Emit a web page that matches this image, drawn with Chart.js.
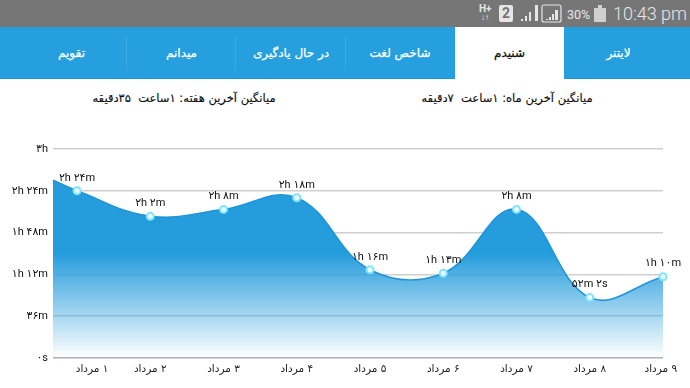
<!DOCTYPE html>
<html><head><meta charset="utf-8">
<script src="https://cdn.jsdelivr.net/npm/chart.js@4"></script>
<style>
html,body{margin:0;padding:0;background:#fff;width:690px;height:388px;overflow:hidden;font-family:"DejaVu Sans",sans-serif}
#status{position:absolute;left:0;top:0;width:690px;height:27px;background:#767676}
#status span{position:absolute;color:#e6e6e6;font-family:Roboto,sans-serif;white-space:nowrap}
#tabs{position:absolute;left:0;top:27px;width:690px;height:51px;background:#259fdd;border-bottom:1px solid #1f97d6;box-sizing:content-box}
.tab{position:absolute;top:0;height:51px;line-height:52px;text-align:center;color:#fff;font-size:12px;direction:rtl;-webkit-text-stroke:0.25px currentColor}
.sep{position:absolute;top:9px;width:1px;height:34px;background:#3fa9e0}
.sub{position:absolute;top:91px;color:#111;font-size:11.5px;direction:rtl;white-space:pre;transform:translateX(-50%);-webkit-text-stroke:0.15px currentColor}
canvas{position:absolute;left:0;top:0}
</style></head>
<body>
<div id="status">
<svg width="690" height="27" style="position:absolute;left:0;top:0">
<g fill="#e6e6e6">
<rect x="499" y="5" width="14" height="17" rx="2"/>
<path d="M521 21v-2h2v2zM525 21v-5h2v5zM529 21v-9h2v9zM535 21v-16h3v16z"/>
<path d="M546 20v-1h2v1zM549 20v-3h2v3zM552 20v-6h2v6zM555 20v-10h3v10z"/>
<rect x="594" y="8" width="12" height="14" fill="#cfcfcf"/><rect x="598" y="5" width="4" height="3" fill="#cfcfcf"/>
</g>
<rect x="542" y="5" width="19" height="17" rx="2" fill="none" stroke="#e6e6e6" stroke-width="1.2"/>
</svg>
<span style="left:479px;top:3px;font-size:10px;font-weight:700">H+</span>
<span style="left:481px;top:13px;font-size:8px;font-weight:700">↓↑</span>
<span style="left:502px;top:5px;font-size:14px;font-weight:700;color:#767676">2</span>
<span style="left:567px;top:7px;font-size:12.5px">30%</span>
<span style="left:613px;top:3px;font-size:18px;font-weight:300">10:43 pm</span>
</div>
<div id="tabs">
<div class="tab" style="left:564px;width:109px">لایتنر</div>
<div class="tab" style="left:455px;width:109px;background:#fff;color:#111;height:52px">شنیدم</div>
<div class="tab" style="left:345px;width:110px">شاخص لغت</div>
<div class="tab" style="left:236px;width:110px">در حال یادگیری</div>
<div class="tab" style="left:127px;width:109px">میدانم</div>
<div class="tab" style="left:17px;width:109px">تقویم</div>
<div class="sep" style="left:126px"></div>
<div class="sep" style="left:235px"></div>
<div class="sep" style="left:345px"></div>
</div>
<div class="sub" style="left:184px">میانگین آخرین هفته: ۱ساعت  ۳۵دقیقه</div>
<div class="sub" style="left:507px">میانگین آخرین ماه: ۱ساعت  ۷دقیقه</div>
<canvas id="c" width="690" height="388"></canvas>
<script>
// minutes listened per day
const days = [1,2,3,4,5,6,7,8,9];
const minutes = [144,122,128,138,76,73,128,52.03,70];
const pointLabels = ["۲h ۲۴m","۲h ۲m","۲h ۸m","۲h ۱۸m","۱h ۱۶m","۱h ۱۳m","۲h ۸m","۵۲m ۲s","۱h ۱۰m"];
const dayLabels = ["۱ مرداد","۲ مرداد","۳ مرداد","۴ مرداد","۵ مرداد","۶ مرداد","۷ مرداد","۸ مرداد","۹ مرداد"];
const yTicks = [0,36,72,108,144,180];
const yTickLabels = ["۰s","۳۶m","۱h ۱۲m","۱h ۴۸m","۲h ۲۴m","۳h"];
// curve continues to the axis start, before day 1
const leadX = 0.672, leadY = 153;
const tickDayPos = [1.205,2,3,4,5,6,7,8,8.97];

const pts = [{x:leadX,y:leadY}].concat(days.map((d,i)=>({x:d,y:minutes[i]})));
const FONT = 'Roboto, "DejaVu Sans", sans-serif';

const labelPlugin = {
  id:'pointText',
  afterDatasetsDraw(chart){
    const {ctx,scales:{x,y}} = chart;
    ctx.save();
    ctx.font = '11px '+FONT;
    ctx.fillStyle = '#111';
    ctx.textAlign = 'center';
    ctx.textBaseline = 'middle';
    days.forEach((d,i)=>{
      ctx.fillText(pointLabels[i], x.getPixelForValue(d), y.getPixelForValue(minutes[i]) - 13);
    });
    ctx.restore();
  }
};

new Chart(document.getElementById('c'),{
  type:'line',
  data:{datasets:[{
    data:pts,
    clip:false,
    borderColor:'#1f95d8',
    borderWidth:1.6,
    tension:0.4,
    fill:'origin',
    backgroundColor(c){
      const a=c.chart.chartArea; if(!a) return '#259ddd';
      const g=c.chart.ctx.createLinearGradient(0,a.top,0,a.bottom);
      g.addColorStop(0,'rgba(37,157,221,1)');
      g.addColorStop(0.5,'rgba(37,157,221,1)');
      g.addColorStop(1,'rgba(37,157,221,0)');
      return g;
    },
    pointRadius:pts.map((p,i)=>i?3.5:0),
    pointBorderWidth:2,
    pointBorderColor:'#7fe4ff',
    pointBackgroundColor:'#eafcff'
  }]},
  plugins:[labelPlugin],
  options:{
    responsive:false,animation:false,
    layout:{padding:{left:0,right:27,top:149,bottom:0}},
    plugins:{legend:{display:false},tooltip:{enabled:false}},
    scales:{
      x:{type:'linear',min:leadX,max:9,
        afterFit(s){s.height=30},
        afterBuildTicks(s){s.ticks=tickDayPos.map(v=>({value:v}))},
        grid:{display:false,drawTicks:false},
        border:{display:false},
        ticks:{autoSkip:false,maxRotation:0,padding:5,color:'#222',font:{size:10.5,family:'"DejaVu Sans",sans-serif'},
          callback(v,i){return '\u200f'+dayLabels[i]}}
      },
      y:{min:0,max:180,
        afterFit(s){s.width=53},
        afterBuildTicks(s){s.ticks=yTicks.map(v=>({value:v}))},
        grid:{color(c){return c.tick.value===0?'#b0b0b0':'#cfcfcf'},lineWidth:1.5,drawTicks:false},
        border:{display:false},
        ticks:{padding:5,color:'#111',font:{size:11,family:FONT},
          callback(v,i){return yTickLabels[i]}}
      }
    }
  }
});
</script>
</body></html>
